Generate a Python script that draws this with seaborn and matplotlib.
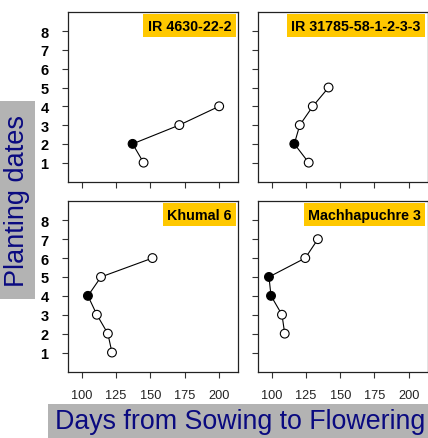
import matplotlib
matplotlib.use("Agg")
import matplotlib.pyplot as plt
import seaborn as sns
import pandas as pd
from matplotlib.patches import Rectangle

# ---------------- data ----------------
varieties = ["IR 4630-22-2", "IR 31785-58-1-2-3-3", "Khumal 6", "Machhapuchre 3"]

ir4630_dates = [1, 2, 3, 4]
ir4630_days = [145, 137, 171, 200]
ir4630_best = [False, True, False, False]

ir31785_dates = [1, 2, 3, 4, 5]
ir31785_days = [127, 116.5, 120.5, 130, 141.5]
ir31785_best = [False, True, False, False, False]

khumal_dates = [1, 2, 3, 4, 5, 6]
khumal_days = [122, 119, 111, 104.5, 114, 151.5]
khumal_best = [False, False, False, True, False, False]

machha_dates = [2, 3, 4, 5, 6, 7]
machha_days = [109.5, 107.5, 99.5, 98, 124.5, 133.7]
machha_best = [False, False, True, True, False, False]

x_ticks = [100, 125, 150, 175, 200]
y_ticks = [1, 2, 3, 4, 5, 6, 7, 8]

series = [
    (ir4630_dates, ir4630_days, ir4630_best),
    (ir31785_dates, ir31785_days, ir31785_best),
    (khumal_dates, khumal_days, khumal_best),
    (machha_dates, machha_days, machha_best),
]

# ---------------- style ----------------
sns.set_theme(style="white")
plt.rcParams["font.family"] = ["Liberation Sans", "DejaVu Sans"]
plt.rcParams["axes.linewidth"] = 0.9

W, H = 428, 439
fig = plt.figure(figsize=(W / 100, H / 100), dpi=100)

# panel boxes in pixels: (left, top, right, bottom)
boxes = [
    (68, 13, 238, 183),
    (258, 13, 427.5, 183),
    (68, 202, 238, 373),
    (258, 202, 427.5, 373),
]

gold = "#FFC800"
navy = "#0A0A80"
grey = "#B3B3B3"

for i, (name, (dates, days, best), (l, t, r, b)) in enumerate(zip(varieties, series, boxes)):
    ax = fig.add_axes([l / W, (H - b) / H, (r - l) / W, (b - t) / H])
    df = pd.DataFrame({"days": days, "date": dates, "best": best})
    sns.lineplot(data=df, x="days", y="date", sort=False, estimator=None,
                 color="black", linewidth=0.8, ax=ax, zorder=2)
    sns.scatterplot(data=df, x="days", y="date", hue="best",
                    palette={True: "black", False: "white"},
                    edgecolor="black", linewidth=0.8, s=40,
                    legend=False, ax=ax, zorder=3, clip_on=False)
    ax.set_xlim(90, 213.7)
    ax.set_ylim(-0.03, 9.02)
    ax.set_xticks(x_ticks)
    ax.set_yticks(y_ticks)
    ax.set_xlabel("")
    ax.set_ylabel("")
    for s in ax.spines.values():
        s.set_color("#222222")
        s.set_linewidth(0.9)
    ax.tick_params(axis="both", which="both", direction="out", length=4,
                   width=0.8, color="#333333", bottom=True, left=True)
    ax.tick_params(axis="y", pad=10, labelsize=10.5, labelcolor="black")
    ax.tick_params(axis="x", pad=8, labelsize=9.2, labelcolor="#222222")
    for lab in ax.get_yticklabels():
        lab.set_fontweight("bold")
    if i % 2 == 1:
        ax.set_yticklabels([])
    if i < 2:
        ax.set_xticklabels([])
    ax.annotate(name, xy=(1, 1), xycoords="axes fraction",
                xytext=(-4.8, -4.8), textcoords="offset points",
                ha="right", va="top", fontsize=10.3, fontweight="bold",
                color="black",
                bbox=dict(boxstyle="square,pad=0.3", fc=gold, ec="none"))

# left label box
fig.patches.append(Rectangle((0, (H - 300) / H), 35 / W, 198 / H,
                             transform=fig.transFigure, fc=grey, ec="none"))
fig.text(17.5 / W, (H - 201) / H, "Planting dates", rotation=90,
         ha="center", va="center", fontsize=19.5, color=navy)

# bottom label box
fig.patches.append(Rectangle((48 / W, 0), 380 / W, 34 / H,
                             transform=fig.transFigure, fc=grey, ec="none"))
fig.text(240 / W, (H - 422) / H, "Days from Sowing to Flowering",
         ha="center", va="center", fontsize=19.3, color=navy)

fig.savefig("out.png", dpi=100)
